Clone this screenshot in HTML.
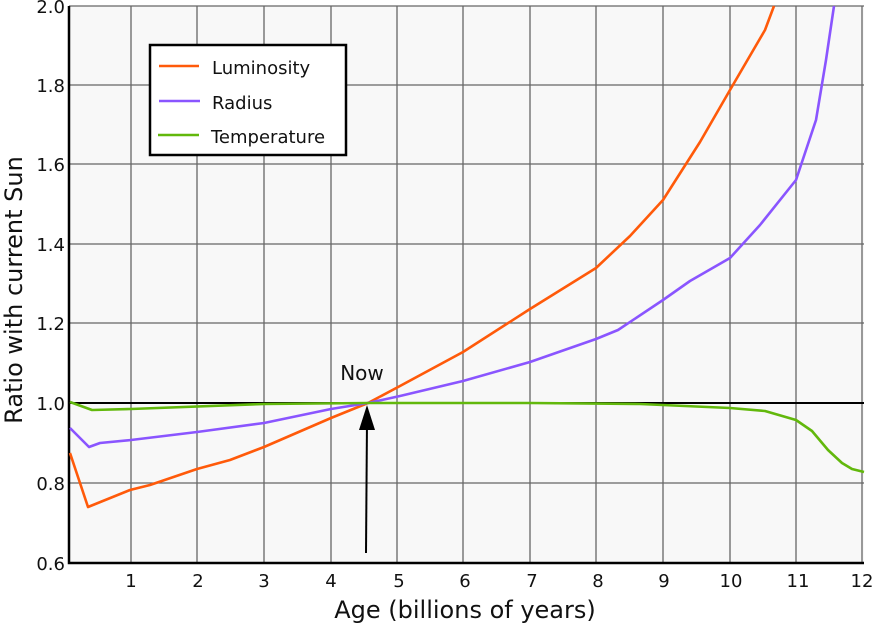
<!DOCTYPE html>
<html><head><meta charset="utf-8"><style>body{margin:0;background:#fff}svg{display:block}text{font-family:"DejaVu Sans","Liberation Sans",sans-serif;fill:#111}</style></head><body>
<svg width="877" height="626" viewBox="0 0 877 626">
<rect x="69" y="6" width="795" height="557" fill="#f8f8f8"/>
<g stroke="#666" stroke-width="1.3">
<line x1="131" y1="6" x2="131" y2="563"/><line x1="197" y1="6" x2="197" y2="563"/><line x1="264" y1="6" x2="264" y2="563"/><line x1="331" y1="6" x2="331" y2="563"/><line x1="397" y1="6" x2="397" y2="563"/><line x1="463" y1="6" x2="463" y2="563"/><line x1="530" y1="6" x2="530" y2="563"/><line x1="596" y1="6" x2="596" y2="563"/><line x1="663" y1="6" x2="663" y2="563"/><line x1="730" y1="6" x2="730" y2="563"/><line x1="796" y1="6" x2="796" y2="563"/><line x1="862" y1="6" x2="862" y2="563"/>
<line x1="69" y1="6" x2="864" y2="6"/><line x1="69" y1="85" x2="864" y2="85"/><line x1="69" y1="164" x2="864" y2="164"/><line x1="69" y1="244" x2="864" y2="244"/><line x1="69" y1="323" x2="864" y2="323"/><line x1="69" y1="483" x2="864" y2="483"/>
</g>
<line x1="69" y1="403" x2="864" y2="403" stroke="#000" stroke-width="2"/>
<path d="M69,6V563H864" fill="none" stroke="#000" stroke-width="2.5"/>
<g fill="none" stroke-width="2.6" stroke-linejoin="round">
<polyline stroke="#ff5a0a" points="70,453 88,507 130,490 150,485 197,469 230,460 264,447 331,418 368,403 400,386 463,352 530,309 596,268 630,236 663,200 700,142 730,90 765,30 774,6"/>
<polyline stroke="#8a55ff" points="70,428 89,447 100,443 131,440 197,432 264,423 331,409 368,403 400,396 463,381 530,362 596,339 618,330 663,300 690,281 730,258 760,225 796,180 816,120 826,60 834,6"/>
<polyline stroke="#62b80c" points="70,402 92,410 131,409 264,404 368,403 530,403 640,404 730,408 765,411 796,420 812,431 828,450 842,463 852,469 864,472"/>
</g>
<line x1="366" y1="553" x2="367" y2="420" stroke="#000" stroke-width="2"/>
<polygon points="367,405 359,430 375,430" fill="#000"/>
<text x="362" y="380" font-size="20" text-anchor="middle">Now</text>
<g font-size="18" text-anchor="end"><text x="65" y="13">2.0</text><text x="65" y="92">1.8</text><text x="65" y="171">1.6</text><text x="65" y="251">1.4</text><text x="65" y="330">1.2</text><text x="65" y="410">1.0</text><text x="65" y="490">0.8</text><text x="65" y="570">0.6</text></g>
<g font-size="18" text-anchor="middle"><text x="131" y="587">1</text><text x="198" y="587">2</text><text x="264" y="587">3</text><text x="331" y="587">4</text><text x="399" y="587">5</text><text x="465" y="587">6</text><text x="532" y="587">7</text><text x="598" y="587">8</text><text x="664" y="587">9</text><text x="731" y="587">10</text><text x="798" y="587">11</text><text x="862" y="587">12</text></g>
<text x="465" y="618" font-size="24" text-anchor="middle">Age (billions of years)</text>
<text transform="translate(22,290) rotate(-90)" font-size="24" text-anchor="middle">Ratio with current Sun</text>
<rect x="150" y="45" width="196" height="110" fill="#fff" stroke="#000" stroke-width="2.5"/>
<g stroke-width="2.6"><line x1="159" y1="66" x2="199" y2="66" stroke="#ff5a0a"/><line x1="159" y1="101" x2="200" y2="101" stroke="#8a55ff"/><line x1="158" y1="135" x2="199" y2="135" stroke="#62b80c"/></g>
<g font-size="18"><text x="212" y="74">Luminosity</text><text x="212" y="109">Radius</text><text x="211" y="143">Temperature</text></g>
</svg></body></html>
